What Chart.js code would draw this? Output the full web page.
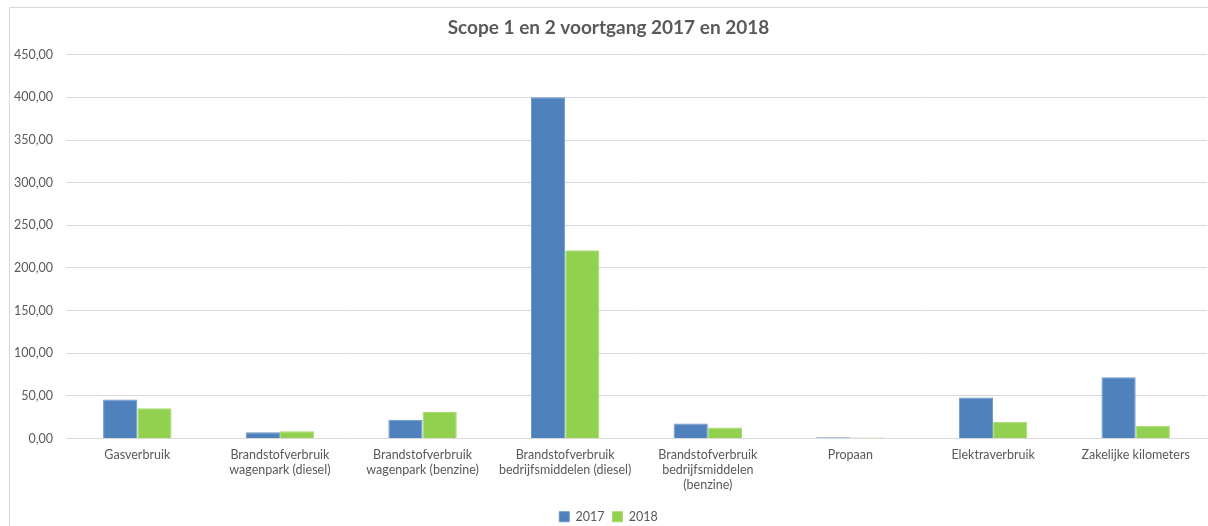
<!DOCTYPE html>
<html>
<head>
<meta charset="utf-8">
<script src="https://cdn.jsdelivr.net/npm/chart.js@4.4.0/dist/chart.umd.min.js"></script>
<style>
  body { margin: 0; background: #fff; }
  .wrap {
    position: absolute; left: 9px; top: 7px;
    width: 1199px; height: 519px;
    border-left: 1px solid #d9d9d9; border-top: 1px solid #d9d9d9;
  }
</style>
</head>
<body>
<div class="wrap"><canvas id="myChart"></canvas></div>
<script>
// categorieen en waarden
const categories = [
    'Gasverbruik',
    ['Brandstofverbruik', 'wagenpark (diesel)'],
    ['Brandstofverbruik', 'wagenpark (benzine)'],
    ['Brandstofverbruik', 'bedrijfsmiddelen (diesel)'],
    ['Brandstofverbruik', 'bedrijfsmiddelen', '(benzine)'],
    'Propaan',
    'Elektraverbruik',
    'Zakelijke kilometers'
];
const values2017 = [45.8, 7.3, 21.9, 400.2, 17.6, 1.5, 48.1, 71.8];
const values2018 = [35.4, 8.5, 31.2, 220.7, 13.0, 1.1, 19.5, 14.9];

const font = "Lato, 'Open Sans', sans-serif";

const ctx = document.getElementById('myChart');
ctx.width = 1199; ctx.height = 519;

const myChart = new Chart(ctx, {
    type: 'bar',
    data: {
        labels: categories,
        datasets: [{
            label: '2017',
            data: values2017,
            backgroundColor: '#4f81bd',
            borderColor: '#6a95c9',
            borderWidth: 1
        }, {
            label: '2018',
            data: values2018,
            backgroundColor: '#92d050',
            borderColor: '#a6da6e',
            borderWidth: 1
        }]
    },
    options: {
        responsive: false,
        animation: false,
        layout: { padding: { left: 0, right: 2, top: 0, bottom: -6 } },
        datasets: { bar: { categoryPercentage: 0.48, barPercentage: 1 } },
        plugins: {
            title: {
                display: true,
                text: 'Scope 1 en 2 voortgang 2017 en 2018',
                color: '#595959',
                font: { family: font, size: 19, weight: 'bold' },
                padding: { top: 8, bottom: 16 }
            },
            legend: {
                position: 'bottom',
                labels: {
                    color: '#595959',
                    font: { family: font, size: 12.5 },
                    boxWidth: 10, boxHeight: 10,
                    padding: 8
                }
            },
            tooltip: { enabled: false }
        },
        scales: {
            x: {
                grid: { display: false },
                border: { color: '#d9d9d9' },
                afterFit: s => { s.height = 64; },
                ticks: { color: '#595959', font: { family: font, size: 12.5 }, maxRotation: 0, autoSkip: false, padding: 1 }
            },
            y: {
                min: 0, max: 450,
                grid: { color: '#d9d9d9', drawTicks: false },
                border: { display: false },
                afterFit: s => { s.width = 56; },
                ticks: {
                    stepSize: 50,
                    padding: 13,
                    color: '#595959',
                    font: { family: font, size: 12.5 },
                    callback: v => v.toFixed(2).replace('.', ',')
                }
            }
        }
    }
});
</script>
</body>
</html>
